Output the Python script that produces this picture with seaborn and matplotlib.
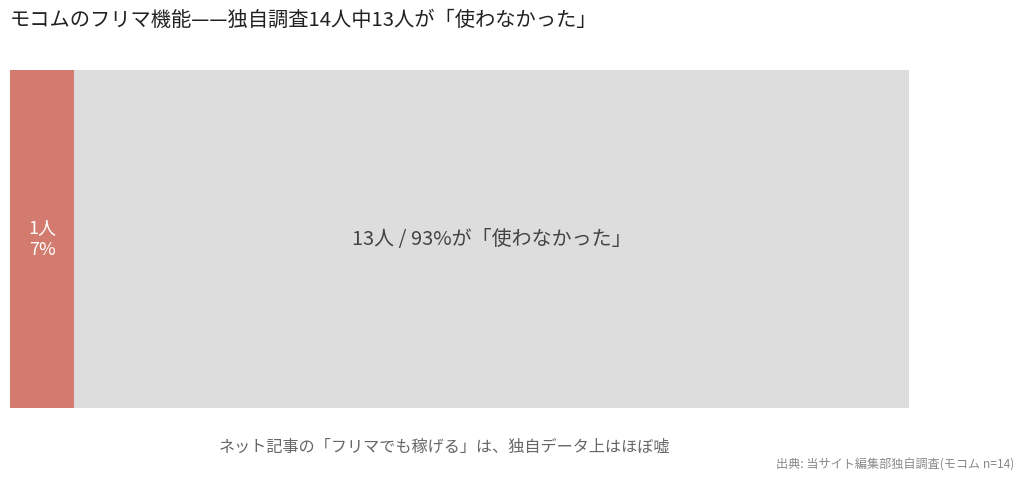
import matplotlib
matplotlib.use("Agg")
import matplotlib.pyplot as plt
import seaborn as sns
import pandas as pd

# data
segments = ["使わなかった", "使った"]
counts = [13, 1]
total = sum(counts)
labels_used = "1人\n7%"
label_unused = "13人 / 93%が「使わなかった」"

title = "モコムのフリマ機能——独自調査14人中13人が「使わなかった」"
caption = "ネット記事の「フリマでも稼げる」は、独自データ上はほぼ嘘"
source = "出典: 当サイト編集部独自調査(モコム n=14)"

sns.set_theme(style="white")
plt.rcParams["font.family"] = ["Noto Sans CJK JP", "DejaVu Sans"]

fig = plt.figure(figsize=(10.24, 4.83), dpi=100)
ax = fig.add_axes([10 / 1024, 75 / 483, 899 / 1024, 338 / 483])

df_total = pd.DataFrame({"row": ["all"], "n": [total]})
df_used = pd.DataFrame({"row": ["all"], "n": [counts[1]]})

# stacked bar: full total in gray, then the used part in red on top
sns.barplot(data=df_total, x="n", y="row", orient="h", width=1.0,
            color="#dddddd", saturation=1, linewidth=0, ax=ax)
sns.barplot(data=df_used, x="n", y="row", orient="h", width=1.0,
            color="#d47b6f", saturation=1, linewidth=0, ax=ax)

ax.set_xlim(0, total)
ax.set_ylim(0.5, -0.5)
ax.axis("off")

ax.text(counts[1] / 2, 0, labels_used, ha="center", va="center",
        color="white", fontsize=13, linespacing=1.25)
ax.text(counts[1] + counts[0] / 2, 0, label_unused, ha="center", va="center",
        color="#444444", fontsize=14.4)

fig.text(10 / 1024, 1 - 20 / 483, title, ha="left", va="center",
         fontsize=14.6, color="#222222")
fig.text(445 / 1024, 1 - 447 / 483, caption, ha="center", va="center",
         fontsize=11.6, color="#666666")
fig.text(1014 / 1024, 1 - 465 / 483, source, ha="right", va="center",
         fontsize=8.7, color="#888888")

fig.savefig("out.png", dpi=100)
